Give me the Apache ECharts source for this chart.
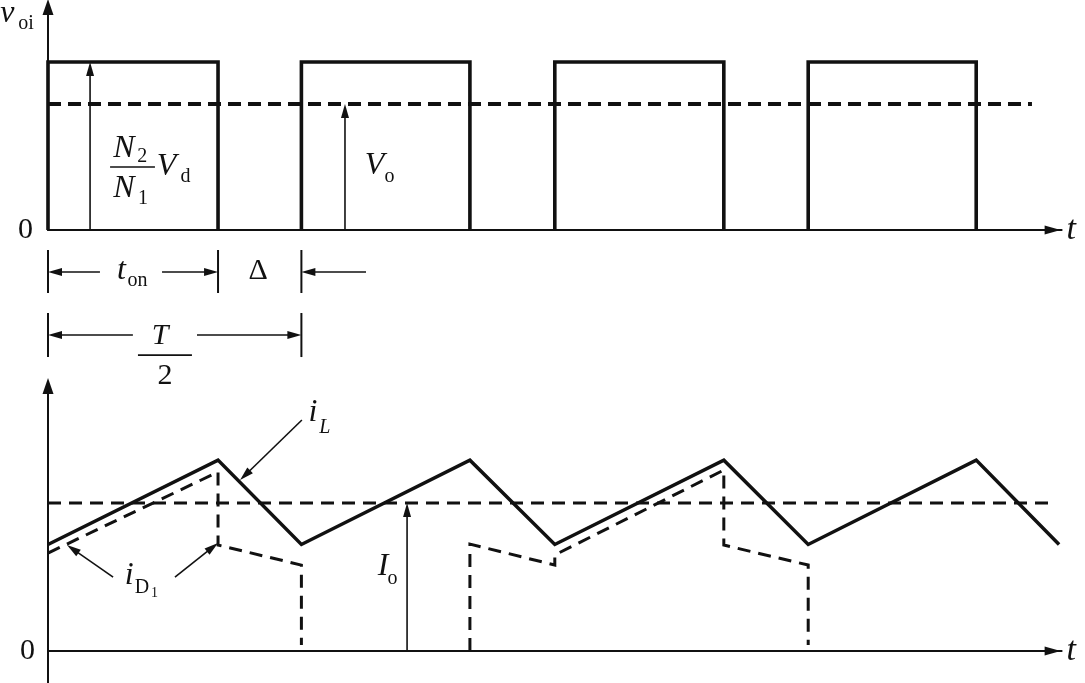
<!DOCTYPE html>
<html>
<head>
<meta charset="utf-8">
<script src="https://cdn.jsdelivr.net/npm/echarts@6/dist/echarts.min.js"></script>
<style>
  html, body { margin: 0; padding: 0; background: #fff; }
  #chart { width: 1085px; height: 683px; }
</style>
</head>
<body>
<div id="chart"></div>
<script>
// ---------------- DATA (time in units of T/2) ----------------
// v_oi : on-intervals of the rectified output pulses
const voiOnIntervals = [[0, 0.671], [1.0, 1.665], [2.0, 2.667], [3.0, 3.663]];
const voiHigh = 1.0;            // (N2/N1) Vd
const VoLevel = 0.75;           // average output voltage
const VoLineEnd = 3.883;

// i_L (inductor current) vertices
const iLTimes  = [0, 0.671, 1.0, 1.665, 2.0, 2.667, 3.0, 3.663, 3.99];
const iLValues = [0.72, 1.29, 0.72, 1.29, 0.72, 1.29, 0.72, 1.29, 0.72];
const IoLevel = 1.0;            // average output current
const IoLineEnd = 3.966;

// i_D1 (diode current) vertices, two conducting stretches
const iD1TimesA  = [0, 0.671, 0.671, 1.0, 1.0];
const iD1ValuesA = [0.662, 1.21, 0.716, 0.581, 0.04];
const iD1TimesB  = [1.665, 1.665, 2.0, 2.0, 2.667, 2.667, 3.0, 3.0];
const iD1ValuesB = [0.0, 0.723, 0.581, 0.649, 1.223, 0.716, 0.581, 0.04];

// ---------------- ANNOTATIONS (in data units of each panel) ----------------
const arrowsTop = [
  [0.166, 0, 0.166, 1.0],
  [1.172, 0, 1.172, 0.75],
  [0.205, -0.25, 0, -0.25],
  [0.450, -0.25, 0.671, -0.25],
  [1.255, -0.25, 1.0, -0.25],
  [0.335, -0.625, 0, -0.625],
  [0.588, -0.625, 1.0, -0.625]
];
const ticksTop = [
  [0, -0.119, 0, -0.375], [0.671, -0.119, 0.671, -0.375], [1.0, -0.119, 1.0, -0.375],
  [0, -0.494, 0, -0.756], [1.0, -0.494, 1.0, -0.756]
];
const barsTop = [
  [0.245, 0.375, 0.422, 0.375],
  [0.355, -0.744, 0.568, -0.744]
];
const labelsTop = [
  { text: 'v',  kind: 'var', at: [-0.160, 1.285] },
  { text: 'oi', kind: 'sub', at: [-0.087, 1.226] },
  { text: 'N',  kind: 'var', at: [0.300, 0.482] },
  { text: '2',  kind: 'sub', at: [0.372, 0.438] },
  { text: 'N',  kind: 'var', at: [0.300, 0.244] },
  { text: '1',  kind: 'sub', at: [0.375, 0.184] },
  { text: 'V',  kind: 'var', at: [0.468, 0.375] },
  { text: 'd',  kind: 'sub', at: [0.543, 0.315] },
  { text: 'V',  kind: 'var', at: [1.289, 0.381] },
  { text: 'o',  kind: 'sub', at: [1.348, 0.315] },
  { text: 't',  kind: 'var', at: [0.290, -0.244] },
  { text: 'on', kind: 'sub', at: [0.353, -0.304] },
  { text: 'Δ',  kind: 'num', at: [0.829, -0.244] },
  { text: 'T',  kind: 'var30', at: [0.442, -0.631] },
  { text: '2',  kind: 'num', at: [0.462, -0.869] }
];
const arrowsBottom = [
  [1.417, 0, 1.417, 1.0],
  [1.002, 1.561, 0.758, 1.155],
  [0.257, 0.5, 0.075, 0.716],
  [0.501, 0.5, 0.671, 0.730]
];
const labelsBottom = [
  { text: 'i', kind: 'var', at: [1.046, 1.608] },
  { text: 'L', kind: 'subIt', at: [1.092, 1.506] },
  { text: 'i', kind: 'var', at: [0.320, 0.507] },
  { text: 'D', kind: 'sub', at: [0.371, 0.426] },
  { text: '1', kind: 'subsub', at: [0.420, 0.392] },
  { text: 'I', kind: 'var', at: [1.322, 0.574] },
  { text: 'o', kind: 'sub', at: [1.360, 0.487] }
];

// ---------------- STYLES ----------------
const INK = '#111';
const SERIF = '"Liberation Serif", "Times New Roman", serif';
const textKinds = {
  var:   { fontSize: 32, fontStyle: 'italic' },
  var30: { fontSize: 30, fontStyle: 'italic' },
  sub:   { fontSize: 20, fontStyle: 'normal' },
  subIt: { fontSize: 20, fontStyle: 'italic' },
  subsub:{ fontSize: 14, fontStyle: 'normal' },
  num:   { fontSize: 30, fontStyle: 'normal' }
};

// ---------------- BUILD SERIES DATA ----------------
function pulsesData(intervals, high) {
  const d = [];
  intervals.forEach(([a, b]) => {
    d.push([a, 0], [a, high], [b, high], [b, 0], ['-', '-']);
  });
  return d;
}
const zip = (ts, vs) => ts.map((t, i) => [t, vs[i]]);

function arrowRender(params, api) {
  const p1 = api.coord([api.value(0), api.value(1)]);
  const p2 = api.coord([api.value(2), api.value(3)]);
  const dx = p2[0] - p1[0], dy = p2[1] - p1[1];
  const L = Math.hypot(dx, dy) || 1;
  const ux = dx / L, uy = dy / L;
  const hl = 14, hw = 4;
  const bx = p2[0] - ux * hl, by = p2[1] - uy * hl;
  return {
    type: 'group',
    children: [
      { type: 'line', shape: { x1: p1[0], y1: p1[1], x2: bx + ux * 2, y2: by + uy * 2 },
        style: { stroke: INK, lineWidth: 1.6 } },
      { type: 'polygon',
        shape: { points: [[p2[0], p2[1]], [bx + uy * hw, by - ux * hw], [bx - uy * hw, by + ux * hw]] },
        style: { fill: INK } }
    ]
  };
}
function segRender(width) {
  return function (params, api) {
    const p1 = api.coord([api.value(0), api.value(1)]);
    const p2 = api.coord([api.value(2), api.value(3)]);
    return { type: 'line', shape: { x1: p1[0], y1: p1[1], x2: p2[0], y2: p2[1] },
             style: { stroke: INK, lineWidth: width } };
  };
}
function textRender(list) {
  return function (params, api) {
    const p = api.coord([api.value(0), api.value(1)]);
    const item = list[params.dataIndex];
    const k = textKinds[item.kind];
    return { type: 'text', x: p[0], y: p[1],
      style: { text: item.text, fill: INK, fontFamily: SERIF, fontSize: k.fontSize,
               fontStyle: k.fontStyle, align: 'center', verticalAlign: 'middle' } };
  };
}

const axisNameStyle = { fontFamily: SERIF, fontStyle: 'italic', fontSize: 34, color: INK, padding: [6, 0, 0, 0] };
const zeroLabel = { fontFamily: SERIF, fontSize: 30, color: INK };

const chart = echarts.init(document.getElementById('chart'), null, { renderer: 'canvas' });
const option = {
  animation: false,
  backgroundColor: '#fff',
  grid: [
    { left: 48, right: 23.4, top: 7, height: 223, outerBoundsMode: 'none', containLabel: false },
    { left: 48, right: 23.4, top: 386, height: 297, outerBoundsMode: 'none', containLabel: false }
  ],
  xAxis: [0, 1].map(i => ({
    type: 'value', gridIndex: i, min: 0, max: 4.0,
    axisLine: { show: true, onZero: true, symbol: ['none', 'triangle'], symbolSize: [9, 16],
                symbolOffset: [0, -9], lineStyle: { color: INK, width: 2 } },
    axisTick: { show: false }, axisLabel: { show: false }, splitLine: { show: false },
    name: 't', nameLocation: 'end', nameGap: 5, nameTextStyle: axisNameStyle
  })),
  yAxis: [
    { type: 'value', gridIndex: 0, min: 0, max: 1.327, interval: 10,
      axisLine: { show: true, symbol: ['none', 'triangle'], symbolSize: [11, 16],
                  lineStyle: { color: INK, width: 2 } },
      axisTick: { show: false }, splitLine: { show: false },
      axisLabel: { show: true, margin: 15, ...zeroLabel, formatter: v => (v === 0 ? '0' : '') } },
    { type: 'value', gridIndex: 1, min: -0.216, max: 1.791,
      axisLine: { show: true, onZero: false, symbol: ['none', 'triangle'], symbolSize: [11, 16],
                  lineStyle: { color: INK, width: 2 } },
      axisTick: { show: false }, splitLine: { show: false },
      axisLabel: { show: true, margin: 13, ...zeroLabel, customValues: [0], formatter: () => '0' } }
  ],
  series: [
    // ---- top panel ----
    { name: 'v_oi', type: 'line', xAxisIndex: 0, yAxisIndex: 0, data: pulsesData(voiOnIntervals, voiHigh),
      showSymbol: false, symbol: 'none', clip: false, connectNulls: false,
      lineStyle: { color: INK, width: 3.6, join: 'miter' } },
    { name: 'Vo', type: 'line', xAxisIndex: 0, yAxisIndex: 0, data: [[0, VoLevel], [VoLineEnd, VoLevel]],
      showSymbol: false, symbol: 'none', clip: false,
      lineStyle: { color: INK, width: 4, type: [13, 7] } },
    { type: 'custom', xAxisIndex: 0, yAxisIndex: 0, renderItem: arrowRender, data: arrowsTop,
      encode: { x: [0, 2], y: [1, 3] }, clip: false, silent: true },
    { type: 'custom', xAxisIndex: 0, yAxisIndex: 0, renderItem: segRender(2), data: ticksTop,
      encode: { x: [0, 2], y: [1, 3] }, clip: false, silent: true },
    { type: 'custom', xAxisIndex: 0, yAxisIndex: 0, renderItem: segRender(1.7), data: barsTop,
      encode: { x: [0, 2], y: [1, 3] }, clip: false, silent: true },
    { type: 'custom', xAxisIndex: 0, yAxisIndex: 0, renderItem: textRender(labelsTop),
      data: labelsTop.map(l => l.at), encode: { x: 0, y: 1 }, clip: false, silent: true },
    // ---- bottom panel ----
    { name: 'iL', type: 'line', xAxisIndex: 1, yAxisIndex: 1, data: zip(iLTimes, iLValues),
      showSymbol: false, symbol: 'none', clip: false,
      lineStyle: { color: INK, width: 3.5, join: 'miter' } },
    { name: 'Io', type: 'line', xAxisIndex: 1, yAxisIndex: 1, data: [[0, IoLevel], [IoLineEnd, IoLevel]],
      showSymbol: false, symbol: 'none', clip: false,
      lineStyle: { color: INK, width: 3, type: [13, 8] } },
    { name: 'iD1', type: 'line', xAxisIndex: 1, yAxisIndex: 1,
      data: zip(iD1TimesA, iD1ValuesA).concat([['-', '-']], zip(iD1TimesB, iD1ValuesB)),
      showSymbol: false, symbol: 'none', clip: false, connectNulls: false,
      lineStyle: { color: INK, width: 3, type: [13, 8], join: 'miter' } },
    { type: 'custom', xAxisIndex: 1, yAxisIndex: 1, renderItem: arrowRender, data: arrowsBottom,
      encode: { x: [0, 2], y: [1, 3] }, clip: false, silent: true },
    { type: 'custom', xAxisIndex: 1, yAxisIndex: 1, renderItem: textRender(labelsBottom),
      data: labelsBottom.map(l => l.at), encode: { x: 0, y: 1 }, clip: false, silent: true }
  ]
};
chart.setOption(option);
</script>
</body>
</html>
